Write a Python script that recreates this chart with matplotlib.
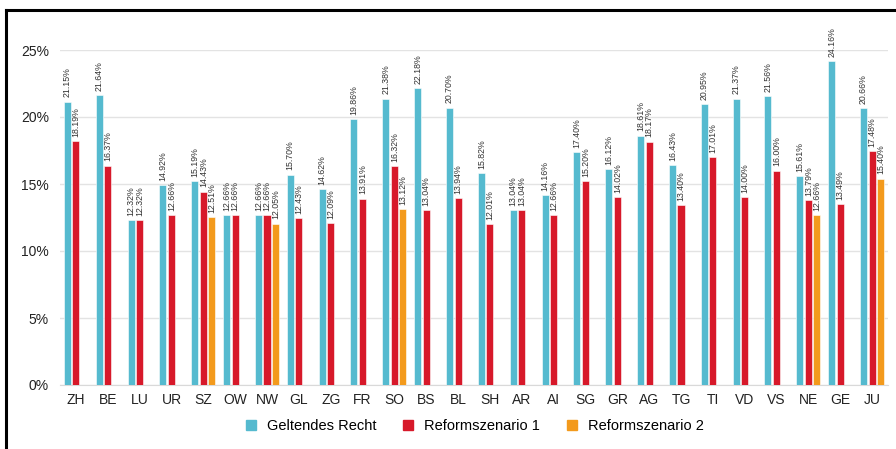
import numpy as np
import matplotlib.pyplot as plt
from matplotlib.lines import Line2D

kantone = ['ZH', 'BE', 'LU', 'UR', 'SZ', 'OW', 'NW', 'GL', 'ZG', 'FR', 'SO', 'BS', 'BL',
           'SH', 'AR', 'AI', 'SG', 'GR', 'AG', 'TG', 'TI', 'VD', 'VS', 'NE', 'GE', 'JU']
geltend = [21.15, 21.64, 12.32, 14.92, 15.19, 12.66, 12.66, 15.70, 14.62, 19.86, 21.38, 22.18, 20.70,
           15.82, 13.04, 14.16, 17.40, 16.12, 18.61, 16.43, 20.95, 21.37, 21.56, 15.61, 24.16, 20.66]
reform1 = [18.19, 16.37, 12.32, 12.66, 14.43, 12.66, 12.66, 12.43, 12.09, 13.91, 16.32, 13.04, 13.94,
           12.01, 13.04, 12.66, 15.20, 14.02, 18.17, 13.40, 17.01, 14.00, 16.00, 13.79, 13.49, 17.48]
reform2 = [None, None, None, None, 12.51, None, 12.05, None, None, None, 13.12, None, None,
           None, None, None, None, None, None, None, None, None, None, 12.66, None, 15.40]

serien = [('Geltendes Recht', geltend, '#55BACF'),
          ('Reformszenario 1', reform1, '#D7192A'),
          ('Reformszenario 2', reform2, '#F39A1C')]

plt.rcParams['font.family'] = ['Liberation Sans', 'DejaVu Sans']

fig = plt.figure(figsize=(8.96, 4.49), dpi=100)
ax = fig.add_axes([60 / 896, 64 / 449, 828 / 896, 335 / 449])

x = np.arange(len(kantone))
slot = 0.27
width = 0.22
for i, (name, vals, col) in enumerate(serien):
    for xi, v in zip(x, vals):
        if v is None:
            continue
        xp = xi + (i - 1) * slot
        ax.bar(xp, v, width=width, color=col, edgecolor='white', linewidth=0.4, zorder=3)
        ax.annotate(f'{v:.2f}%', (xp, v), xytext=(0, 3), textcoords='offset points',
                    rotation=90, ha='center', va='bottom', fontsize=6.3, color='#333333',
                    annotation_clip=False)

ax.set_xlim(-0.5, len(kantone) - 0.5)
ax.set_ylim(0, 25)
ax.set_yticks([0, 5, 10, 15, 20, 25])
ax.set_yticklabels(['0%', '5%', '10%', '15%', '20%', '25%'])
ax.set_xticks(x)
ax.set_xticklabels(kantone)
ax.tick_params(axis='both', length=0, labelsize=10, colors='#222222')
ax.tick_params(axis='y', pad=8)
ax.tick_params(axis='x', pad=6)
ax.grid(axis='y', color='#E3E3E3', linewidth=1, zorder=0)
for s in ['top', 'right', 'left']:
    ax.spines[s].set_visible(False)
ax.spines['bottom'].set_color('#D9D9D9')

handles = [Line2D([], [], marker='s', linestyle='', markersize=7, color=c) for _, _, c in serien]
fig.legend(handles, [n for n, _, _ in serien], loc='center', bbox_to_anchor=(470 / 896, 1 - 426 / 449),
           ncol=3, frameon=False, fontsize=10.5, handletextpad=0.1, columnspacing=1.2)

# black frame lines (top and left)
fig.add_artist(Line2D([6 / 896, 1], [1 - 10 / 449, 1 - 10 / 449], color='black', linewidth=2.2))
fig.add_artist(Line2D([6 / 896, 6 / 896], [0, 1 - 10 / 449], color='black', linewidth=2.2))

fig.savefig('out.png', dpi=100)
